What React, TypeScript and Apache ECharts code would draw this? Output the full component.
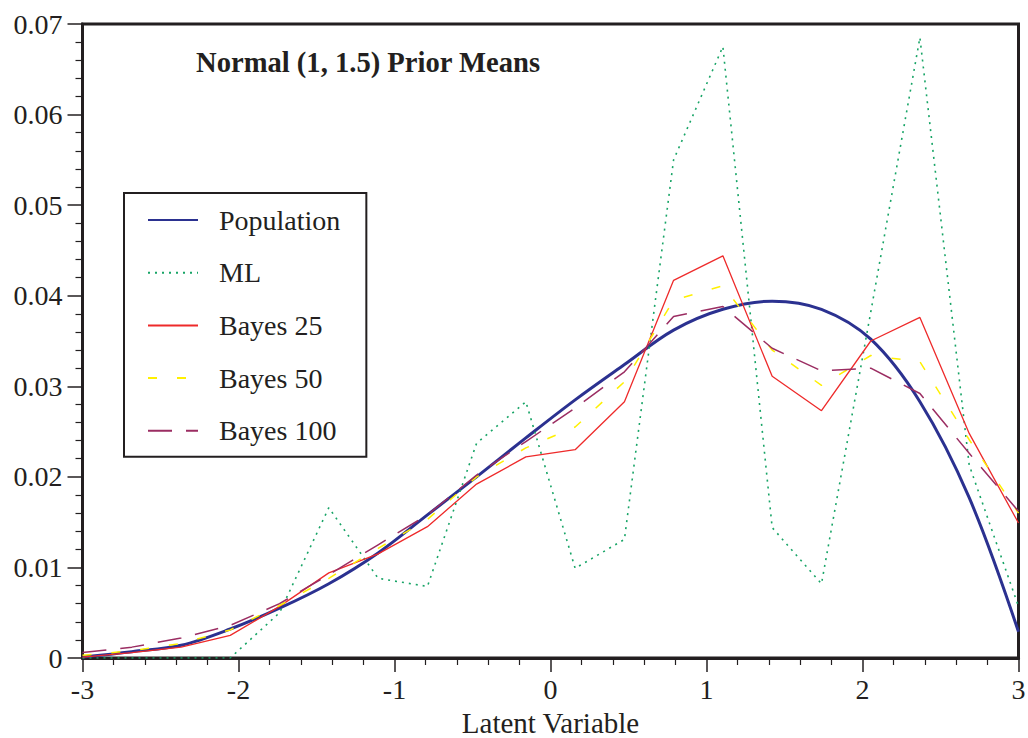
import React, { useEffect, useRef } from "react";
import * as echarts from "echarts";

const xs = [-3, -2.684, -2.368, -2.053, -1.737, -1.421, -1.105, -0.789, -0.474, -0.158, 0.158, 0.474, 0.789, 1.105, 1.421, 1.737, 2.053, 2.368, 2.684, 3];
const population = [0.0001, 0.0007, 0.0014, 0.0032, 0.0055, 0.0082, 0.0116, 0.0158, 0.02, 0.0243, 0.0285, 0.0324, 0.0362, 0.0385, 0.0394, 0.0385, 0.0352, 0.0283, 0.0177, 0.0029];
const ml = [0, 0, 0, 0, 0.005, 0.0166, 0.0088, 0.0079, 0.0237, 0.0283, 0.0099, 0.0131, 0.055, 0.0675, 0.0144, 0.0082, 0.0382, 0.0685, 0.0213, 0.0057];
const bayes25 = [0.0001, 0.0006, 0.0012, 0.0025, 0.0057, 0.0094, 0.0115, 0.0145, 0.0192, 0.0222, 0.023, 0.0283, 0.0417, 0.0444, 0.0311, 0.0273, 0.035, 0.0376, 0.0248, 0.0149];
const bayes50 = [0.0003, 0.0008, 0.0016, 0.0031, 0.0058, 0.0088, 0.0121, 0.0153, 0.02, 0.0232, 0.0255, 0.0305, 0.0395, 0.0411, 0.034, 0.0301, 0.0334, 0.0327, 0.0241, 0.016];
const bayes100 = [0.0006, 0.0012, 0.0022, 0.0036, 0.006, 0.0092, 0.0125, 0.0158, 0.0202, 0.0239, 0.0276, 0.0316, 0.0377, 0.0388, 0.0342, 0.0317, 0.032, 0.0292, 0.0226, 0.0162];

const seriesNames = ["Population", "ML", "Bayes 25", "Bayes 50", "Bayes 100"];
const titleText = "Normal (1, 1.5) Prior Means";
const xAxisName = "Latent Variable";

const FONT = "'Liberation Serif', 'Times New Roman', serif";
const INK = "#231f20";

const pairs = (vals: number[]) => vals.map((v, i) => [xs[i], v]);

export default function App() {
  const ref = useRef<HTMLDivElement>(null);
  useEffect(() => {
    if (!ref.current) return;
    const chart = echarts.init(ref.current, undefined, { renderer: "svg" });
    const mk = (name: string, data: number[], color: string, width: number, type: any, smooth: any) => ({
      name,
      type: "line",
      data: pairs(data),
      showSymbol: false,
      symbol: "none",
      smooth,
      lineStyle: { color, width, type, cap: "butt" },
      itemStyle: { color },
      z: 2,
    });
    chart.setOption({
      animation: false,
      backgroundColor: "#ffffff",
      textStyle: { fontFamily: FONT },
      grid: {
        left: 82.5,
        top: 24,
        right: 9.5,
        bottom: 80,
        show: true,
        borderColor: INK,
        borderWidth: 3,
        containLabel: false,
        outerBoundsMode: "none",
      },
      graphic: [
        {
          type: "text",
          x: 196,
          y: 62,
          style: {
            text: titleText,
            font: `bold 28.6px ${FONT}`,
            fill: INK,
            verticalAlign: "middle",
            align: "left",
          },
        },
      ],
      legend: {
        orient: "vertical",
        left: 124,
        top: 193,
        data: seriesNames,
        itemWidth: 50,
        itemHeight: 14,
        itemGap: 24.7,
        padding: [13, 26, 12, 23],
        borderColor: INK,
        borderWidth: 2,
        backgroundColor: "#ffffff",
        itemStyle: { opacity: 0, borderWidth: 0 },
        textStyle: { fontFamily: FONT, fontSize: 28, color: INK, lineHeight: 28, padding: [0, 0, 0, 16] },
      },
      xAxis: {
        type: "value",
        min: -3,
        max: 3,
        interval: 1,
        name: xAxisName,
        nameLocation: "middle",
        nameGap: 50,
        nameTextStyle: { fontFamily: FONT, fontSize: 29, color: INK },
        axisLine: { show: true, onZero: false, lineStyle: { color: INK, width: 3 } },
        axisTick: { show: true, length: 14, lineStyle: { color: INK, width: 1.5 } },
        minorTick: { show: true, splitNumber: 5, length: 7, lineStyle: { color: INK, width: 1.2 } },
        splitLine: { show: false },
        axisLabel: { fontFamily: FONT, fontSize: 28, color: INK, margin: 17 },
      },
      yAxis: {
        type: "value",
        min: 0,
        max: 0.07,
        interval: 0.01,
        axisLine: { show: true, onZero: false, lineStyle: { color: INK, width: 3 } },
        axisTick: { show: true, length: 15, lineStyle: { color: INK, width: 1.5 } },
        minorTick: { show: true, splitNumber: 5, length: 7, lineStyle: { color: INK, width: 1.2 } },
        splitLine: { show: false },
        axisLabel: {
          fontFamily: FONT,
          fontSize: 28,
          color: INK,
          margin: 20,
          formatter: (v: number) => (v === 0 ? "0" : v.toFixed(2)),
        },
      },
      series: [
        mk(seriesNames[0], population, "#2b3190", 3, "solid", 0.35),
        mk(seriesNames[1], ml, "#17a466", 1.6, [2, 5], false),
        mk(seriesNames[2], bayes25, "#ee2a2a", 1.3, "solid", false),
        mk(seriesNames[3], bayes50, "#fff000", 1.5, [9, 20], false),
        mk(seriesNames[4], bayes100, "#9b2d62", 1.5, [24, 14], false),
      ],
    });
    return () => chart.dispose();
  }, []);
  return (
    <div
      ref={ref}
      style={{ position: "fixed", left: 0, top: 0, width: 1028, height: 738, background: "#fff" }}
    />
  );
}
